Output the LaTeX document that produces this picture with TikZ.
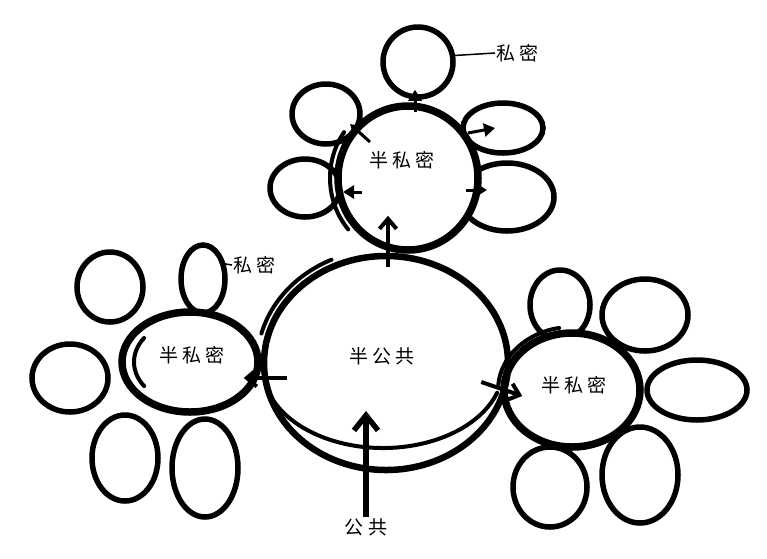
\documentclass[tikz,border=0pt]{standalone}
\usepackage{fontspec}
\newfontfamily\cjk[LetterSpace=22]{Noto Sans CJK SC}
\usetikzlibrary{shapes.geometric, arrows.meta, calc}

\begin{document}
\begin{tikzpicture}[
  x=1pt, y=-1pt,
  every node/.style={font=\cjk\fontsize{19}{22}\selectfont},
  sz/.style 2 args={minimum width=#1, minimum height=#2},
  petal/.style={ellipse, draw, line width=5.5pt, fill=white, inner sep=0pt},
  semi/.style={ellipse, draw, line width=7.5pt, fill=white, inner sep=0pt},
  hubbox/.style={ellipse, draw, line width=6.5pt, inner sep=0pt},
  tag/.style={inner sep=1pt},
  stroke/.style={line width=4pt, line cap=round},
  lead/.style={line width=1.5pt},
  arr/.style={-{Straight Barb[length=10pt, width=17pt]}, line width=4pt},
  bigarr/.style={-{Straight Barb[length=15pt, width=24pt]}, line width=5.5pt},
  tri/.style={-{Triangle[length=11pt, width=13pt]}, line width=3pt},
]
\useasboundingbox (0,0) rectangle (767,558);

%% Top cluster petals
\node[petal, sz={70pt}{70pt}] (ptop) at (418,62)  {};
\node[petal, sz={68pt}{60pt}] (ptl)  at (326,114) {};
\node[petal, sz={80pt}{50pt}] (ptr)  at (503,128) {};
\node[petal, sz={94pt}{68pt}] (pbr)  at (507,197) {};
\node[petal, sz={70pt}{58pt}] (pl)   at (305,188) {};

%% Left cluster petals
\node[petal, sz={66pt}{70pt}] (lp1) at (110,287) {};
\node[petal, sz={44pt}{68pt}] (lp2) at (203,279) {};
\node[petal, sz={76pt}{68pt}] (lp3) at (70,378)  {};
\node[petal, sz={66pt}{86pt}] (lp4) at (125,458) {};
\node[petal, sz={66pt}{98pt}] (lp5) at (205,468) {};

%% Right cluster petals
\node[petal, sz={60pt}{70pt}]  (rp1) at (560,305) {};
\node[petal, sz={86pt}{72pt}]  (rp2) at (645,315) {};
\node[petal, sz={100pt}{60pt}] (rp3) at (697,390) {};
\node[petal, sz={76pt}{96pt}]  (rp4) at (640,475) {};
\node[petal, sz={74pt}{80pt}]  (rp5) at (550,487) {};

%% Semi-private rooms
\node[semi, sz={140pt}{144pt}] (semitop)   at (408,178) {};
\node[semi, sz={136pt}{100pt}] (semileft)  at (190,362) {};
\node[semi, sz={136pt}{114pt}] (semiright) at (572,390) {};

%% Semi-public hub
\node[hubbox, sz={244pt}{214pt}] (hub) at (386,363) {};

%% Second strokes of the sketch
\draw[stroke] (semitop.center)  ++(140:78 and 80) arc[start angle=140, end angle=215, x radius=78, y radius=80];
\draw[stroke] (semileft.center) ++(145:56 and 42) arc[start angle=145, end angle=215, x radius=56, y radius=42];
\draw[stroke] (semiright.center) ++(-100:74 and 63) arc[start angle=-100, end angle=-175, x radius=74, y radius=63];
\draw[stroke] (hub.center) ++(195:129 and 114) arc[start angle=195, end angle=245, x radius=129, y radius=114];
\draw[stroke] ($(hub.center)+(-3,5)$) ++(165:120 and 80) arc[start angle=165, end angle=18, x radius=120, y radius=80];

%% Texts
\node[tag] (thub)   at (382,356) {半公共};
\node[tag] (ttop)   at (402,160) {半私密};
\node[tag] (tleft)  at (192,355) {半私密};
\node[tag] (tright) at (574,385) {半私密};
\node[tag] (pub)    at (366,527) {公共};
\node[tag, anchor=west] (privtop)  at (495,53)  {私密};
\node[tag, anchor=west] (privleft) at (232,265) {私密};

%% Leader lines
\draw[lead] (ptop.10) -- (privtop.west);
\draw[lead] (lp2.east) ++(-8,-16) -- (privleft.west);

%% Arrows
\draw[bigarr] (pub.north) -- ([yshift=-48pt]hub.center -| pub.north);
\draw[arr] ([xshift=2pt, yshift=-14pt]hub.north) -- ([xshift=-20pt, yshift=38pt]semitop.south);
\draw[arr] ([xshift=26pt, yshift=-15pt]hub.west) -- ([xshift=-18pt, yshift=-16pt]semileft.east);
\draw[arr] ([xshift=-30pt, yshift=-19pt]hub.east) -- ([xshift=22pt, yshift=-6pt]semiright.west);
\draw[tri] ([xshift=7pt, yshift=-10pt]semitop.north) -- ([xshift=-3pt, yshift=10pt]ptop.south);
\draw[tri] ($(semitop.center)+(60,-45)$) -- ($(ptr.center)+(-8,0)$);
\draw[tri] ($(semitop.center)+(58,12)$)  -- ($(pbr.center)+(-20,-7)$);
\draw[tri] ($(semitop.center)+(-38,-36)$) -- ($(ptl.center)+(24,10)$);
\draw[tri] ($(semitop.center)+(-46,14)$) -- ($(pl.center)+(38,4)$);

\end{tikzpicture}
\end{document}
